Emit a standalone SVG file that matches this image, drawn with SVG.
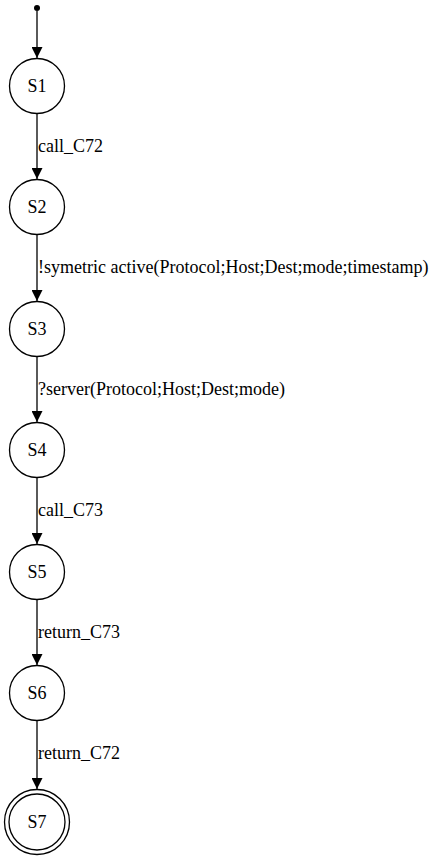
<svg xmlns="http://www.w3.org/2000/svg" width="439" height="860" viewBox="0 0 439 860">
  <style>
    .state { fill: none; stroke: #000; stroke-width: 1.3; }
    .edge { fill: none; stroke: #000; stroke-width: 1.3; }
    .name { font-family: "Liberation Serif", "Times New Roman", serif; font-size: 18px; text-anchor: middle; fill: #000; }
    .label { font-family: "Liberation Serif", "Times New Roman", serif; font-size: 18px; fill: #000; }
  </style>
  <defs>
    <marker id="arrow" viewBox="0 0 10 11" refX="11" refY="5.5" markerWidth="11" markerHeight="11" markerUnits="userSpaceOnUse" orient="auto">
      <path d="M0,0 L11,5.5 L0,11 Z" fill="#000"/>
    </marker>
  </defs>
  <rect width="439" height="860" fill="#fff"/>

  <g id="start">
    <circle cx="37" cy="8" r="3" fill="#000"/>
  </g>

  <g id="edges">
    <path class="edge" d="M37,11 L37,58" marker-end="url(#arrow)"/>
    <path class="edge" d="M37,114 L37,179" marker-end="url(#arrow)"/>
    <text class="label" x="38" y="152">call_C72</text>
    <path class="edge" d="M37,235 L37,301" marker-end="url(#arrow)"/>
    <text class="label" x="38" y="273">!symetric active(Protocol;Host;Dest;mode;timestamp)</text>
    <path class="edge" d="M37,357 L37,422" marker-end="url(#arrow)"/>
    <text class="label" x="38" y="395">?server(Protocol;Host;Dest;mode)</text>
    <path class="edge" d="M37,478 L37,544" marker-end="url(#arrow)"/>
    <text class="label" x="38" y="516">call_C73</text>
    <path class="edge" d="M37,600 L37,665" marker-end="url(#arrow)"/>
    <text class="label" x="38" y="638">return_C73</text>
    <path class="edge" d="M37,721 L37,789" marker-end="url(#arrow)"/>
    <text class="label" x="38" y="759">return_C72</text>
  </g>

  <g id="S1"><circle class="state" cx="37" cy="86" r="27.5"/><text class="name" x="37" y="92">S1</text></g>
  <g id="S2"><circle class="state" cx="37" cy="207" r="27.5"/><text class="name" x="37" y="213">S2</text></g>
  <g id="S3"><circle class="state" cx="37" cy="329" r="27.5"/><text class="name" x="37" y="335">S3</text></g>
  <g id="S4"><circle class="state" cx="37" cy="450" r="27.5"/><text class="name" x="37" y="456">S4</text></g>
  <g id="S5"><circle class="state" cx="37" cy="572" r="27.5"/><text class="name" x="37" y="578">S5</text></g>
  <g id="S6"><circle class="state" cx="37" cy="693" r="27.5"/><text class="name" x="37" y="699">S6</text></g>
  <g id="S7">
    <circle class="state" cx="37" cy="822" r="32.5"/>
    <circle class="state" cx="37" cy="822" r="28"/>
    <text class="name" x="37" y="828">S7</text>
  </g>
</svg>
